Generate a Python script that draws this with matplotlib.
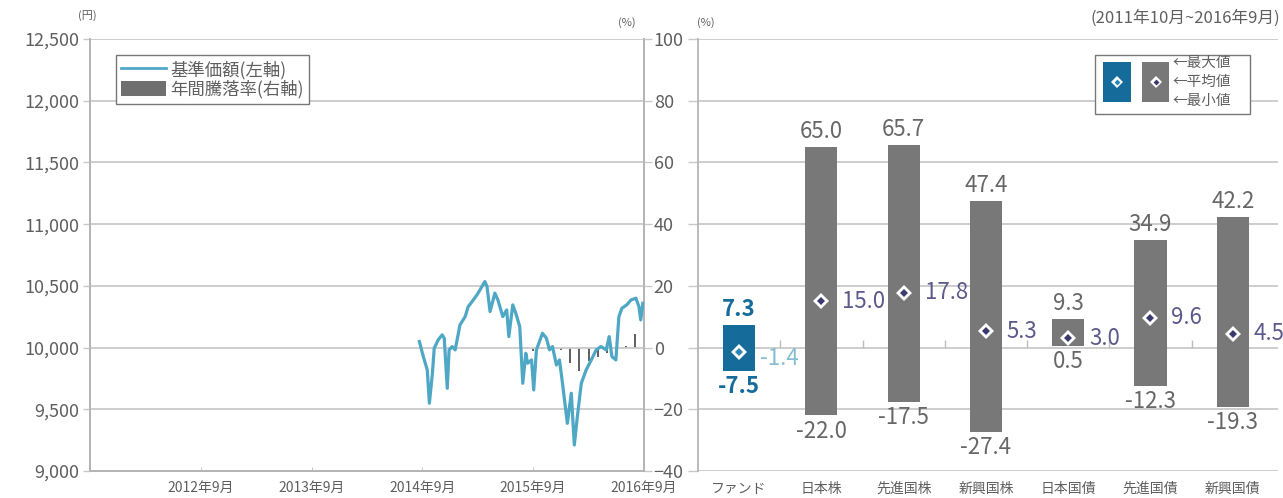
import numpy as np
import pandas as pd
import matplotlib
matplotlib.use('Agg')
import matplotlib.pyplot as plt
import matplotlib.dates as mdates
from matplotlib.lines import Line2D
from matplotlib.patches import Patch, Rectangle

plt.rcParams['font.family'] = ['Noto Sans CJK JP', 'DejaVu Sans']

##################
## Data
##################
nav_dates = ['2014-09-20', '2014-10-03', '2014-10-16', '2014-10-23', '2014-11-02', '2014-11-08',
             '2014-11-21', '2014-12-04', '2014-12-11', '2014-12-21', '2014-12-27', '2015-01-06',
             '2015-01-16', '2015-02-01', '2015-02-18', '2015-02-28', '2015-03-13', '2015-03-29',
             '2015-04-08', '2015-04-24', '2015-05-01', '2015-05-11', '2015-05-27', '2015-06-06',
             '2015-06-22', '2015-07-05', '2015-07-12', '2015-07-25', '2015-08-04', '2015-08-17',
             '2015-08-27', '2015-09-06', '2015-09-12', '2015-09-25', '2015-10-02', '2015-10-11',
             '2015-10-31', '2015-11-13', '2015-11-23', '2015-12-03', '2015-12-16', '2015-12-26',
             '2016-01-05', '2016-01-21', '2016-02-03', '2016-02-13', '2016-02-23', '2016-03-07',
             '2016-03-23', '2016-04-09', '2016-04-25', '2016-05-11', '2016-05-28', '2016-06-07',
             '2016-06-16', '2016-06-29', '2016-07-09', '2016-07-19', '2016-08-04', '2016-08-18',
             '2016-09-03', '2016-09-13', '2016-09-19', '2016-09-26']
nav_values = [10049, 9927, 9819, 9549, 9792, 9995,
              10062, 10103, 10076, 9670, 9981, 10008,
              9981, 10184, 10251, 10332, 10373, 10427,
              10468, 10535, 10495, 10292, 10441, 10386,
              10251, 10305, 10089, 10346, 10278, 10170,
              9711, 9954, 9873, 9900, 9657, 9981,
              10116, 10076, 9981, 10008, 9859, 9900,
              9711, 9386, 9630, 9211, 9441, 9711,
              9819, 9900, 9981, 10008, 9981, 10089,
              9927, 9900, 10251, 10319, 10346, 10386,
              10400, 10332, 10224, 10359]

ret_dates = ['2015-09-30', '2015-10-31', '2015-11-30', '2015-12-31', '2016-01-31', '2016-02-29',
             '2016-03-31', '2016-04-30', '2016-05-31', '2016-06-30', '2016-07-31', '2016-08-31',
             '2016-09-30']
ret_values = [-1.0, -0.6, -0.4, -0.8, -5.1, -7.5, -4.5, -3.2, -1.8, -2.6, 0.5, 4.3, 7.3]

xtick_dates = ['2012-09-30', '2013-09-30', '2014-09-30', '2015-09-30', '2016-09-30']
xtick_labels = ['2012年9月', '2013年9月', '2014年9月', '2015年9月', '2016年9月']

categories = ['ファンド', '日本株', '先進国株', '新興国株', '日本国債', '先進国債', '新興国債']
max_vals = [7.3, 65.0, 65.7, 47.4, 9.3, 34.9, 42.2]
mean_vals = [-1.4, 15.0, 17.8, 5.3, 3.0, 9.6, 4.5]
min_vals = [-7.5, -22.0, -17.5, -27.4, 0.5, -12.3, -19.3]

##################
## Styles
##################
grid_c = '#c9c9c9'
txt_c = '#5f5f5f'
fund_c = '#156c9b'
bar_c = '#787878'
line_c = '#4fa7c6'
mean_c = '#5b5a8a'

fig = plt.figure(figsize=(12.83, 4.98), dpi=100)

##################
## Left panel
##################
ax1 = fig.add_axes([0.0702, 0.0542, 0.4318, 0.8675])
ax2 = ax1.twinx()
ax1.set_zorder(ax2.get_zorder() + 1)
ax1.patch.set_visible(False)

nd = pd.to_datetime(nav_dates)
rd = pd.to_datetime(ret_dates)
ax2.bar(rd, ret_values, width=7, color='#626262', zorder=2)
ax1.plot(nd, nav_values, color=line_c, linewidth=2.3, zorder=3)

ax1.set_xlim(pd.Timestamp('2011-09-30'), pd.Timestamp('2016-09-30'))
ax1.set_ylim(9000, 12500)
ax1.set_yticks(np.arange(9000, 12501, 500))
ax1.set_yticklabels(['{:,}'.format(v) for v in range(9000, 12501, 500)])
ax1.set_xticks(pd.to_datetime(xtick_dates))
ax1.set_xticklabels(xtick_labels)
ax1.yaxis.grid(True, color=grid_c, linewidth=1.3)
ax1.set_axisbelow(True)
ax1.tick_params(axis='y', colors=grid_c, labelcolor=txt_c, labelsize=13, length=5, width=1, pad=3)
ax1.tick_params(axis='x', direction='in', colors=grid_c, labelcolor=txt_c, labelsize=10, length=3, pad=7)

ax2.set_ylim(-40, 100)
ax2.set_yticks(np.arange(-40, 101, 20))
ax2.tick_params(axis='y', colors=grid_c, labelcolor=txt_c, labelsize=13, length=6, width=1, pad=1)

for a in (ax1, ax2):
    a.spines['top'].set_visible(False)
    for s in ('left', 'right', 'bottom'):
        a.spines[s].set_color('#b5b5b5')
        a.spines[s].set_linewidth(1.3)

leg = ax1.legend(handles=[Line2D([0], [0], color=line_c, linewidth=2),
                          Patch(facecolor='#6f6f6f', edgecolor='none')],
                 labels=['基準価額(左軸)', '年間騰落率(右軸)'],
                 loc='upper left', bbox_to_anchor=(0.047, 0.962), borderaxespad=0,
                 fontsize=12.5, handlelength=2.6, handleheight=1.0, handletextpad=0.2,
                 labelspacing=0.05, borderpad=0.3, fancybox=False, framealpha=1)
leg.get_frame().set_edgecolor('#777777')
leg.get_frame().set_linewidth(1.0)
for t in leg.get_texts():
    t.set_color(txt_c)

fig.text(78 / 1283, 1 - 16 / 498, '(円)', fontsize=8, color=txt_c, va='center')
fig.text(618 / 1283, 1 - 23 / 498, '(%)', fontsize=8, color=txt_c, va='center')

##################
## Right panel
##################
ax3 = fig.add_axes([0.5440, 0.0542, 0.4521, 0.8675])
x = np.arange(len(categories))
colors = [fund_c] + [bar_c] * (len(categories) - 1)
heights = [mx - mn for mx, mn in zip(max_vals, min_vals)]
ax3.bar(x, heights, bottom=min_vals, width=0.39, color=colors, zorder=3)
ax3.vlines(x[:-1] + 0.5, 0, 2.5, color='#bdbdbd', linewidth=1, zorder=2)

inner = ['#2a86b5'] + ['#3b3a6e'] * (len(categories) - 1)
ax3.plot(x, mean_vals, linestyle='none', marker='D', markersize=8.5,
         markerfacecolor='white', markeredgewidth=0, zorder=4)
for xi, m, c in zip(x, mean_vals, inner):
    ax3.plot(xi, m, marker='D', markersize=4.5, color=c, markeredgewidth=0, zorder=5)

for i, (mx, mn, me) in enumerate(zip(max_vals, min_vals, mean_vals)):
    fund = i == 0
    vc = fund_c if fund else '#676767'
    fw = 'semibold' if fund else 'normal'
    ax3.annotate('{:.1f}'.format(mx), (i, mx), xytext=(0, 3), textcoords='offset points',
                 ha='center', va='bottom', fontsize=16, color=vc, fontweight=fw)
    ax3.annotate('{:.1f}'.format(mn), (i, mn), xytext=(0, -3), textcoords='offset points',
                 ha='center', va='top', fontsize=16, color=vc, fontweight=fw)
    ax3.annotate('{:.1f}'.format(me), (i + 0.195, me), xytext=(3.5, -5 if fund else 0),
                 textcoords='offset points', ha='left', va='center', fontsize=16,
                 color='#86bcd2' if fund else mean_c, annotation_clip=False, zorder=6)

ax3.set_xlim(-0.5, 6.55)
ax3.set_ylim(-40, 100)
ax3.set_yticks(np.arange(-40, 101, 20))
ax3.set_yticklabels([])
ax3.set_xticks(x)
ax3.set_xticklabels(categories)
ax3.yaxis.grid(True, color=grid_c, linewidth=1.3)
ax3.set_axisbelow(True)
ax3.tick_params(axis='y', colors=grid_c, length=7, width=1)
ax3.tick_params(axis='x', length=0, labelcolor=txt_c, labelsize=10, pad=8)
for s in ('top', 'right', 'bottom'):
    ax3.spines[s].set_visible(False)
ax3.spines['left'].set_color('#b5b5b5')
ax3.spines['left'].set_linewidth(1.3)

# legend box (max / mean / min)
tr = ax3.transAxes
ax3.add_patch(Rectangle((0.684, 0.826), 0.268, 0.137, transform=tr, facecolor='white',
                        edgecolor='#777777', linewidth=1.0, zorder=6))
ax3.add_patch(Rectangle((0.698, 0.853), 0.048, 0.094, transform=tr, facecolor=fund_c,
                        edgecolor='none', zorder=7))
ax3.add_patch(Rectangle((0.766, 0.853), 0.046, 0.094, transform=tr, facecolor=bar_c,
                        edgecolor='none', zorder=7))
for px, ic in ((0.722, inner[0]), (0.789, inner[1])):
    ax3.plot(px, 0.900, transform=tr, marker='D', markersize=6, markerfacecolor='white',
             markeredgewidth=0, zorder=8)
    ax3.plot(px, 0.900, transform=tr, marker='D', markersize=3, color=ic,
             markeredgewidth=0, zorder=9)
for ty, lab in ((0.944, '←最大値'), (0.900, '←平均値'), (0.856, '←最小値')):
    ax3.text(0.818, ty, lab, transform=tr, fontsize=10.5, color=txt_c, va='center', zorder=8)

fig.text(697 / 1283, 1 - 23 / 498, '(%)', fontsize=8, color=txt_c, va='center')
fig.text(1280 / 1283, 1 - 18 / 498, '(2011年10月~2016年9月)', fontsize=12, color=txt_c,
         ha='right', va='center')

fig.savefig('out.png', dpi=100)
